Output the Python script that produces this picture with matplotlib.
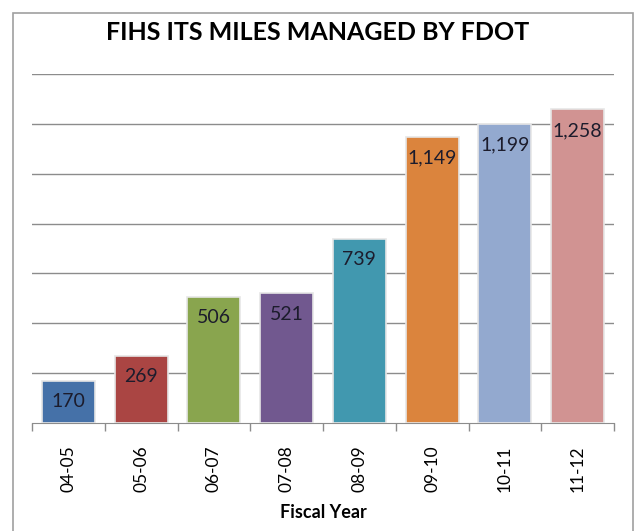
import matplotlib
matplotlib.use("Agg")
import matplotlib.pyplot as plt
from matplotlib.patches import Rectangle

# ---- data ----
years = ["04-05", "05-06", "06-07", "07-08", "08-09", "09-10", "10-11", "11-12"]
miles = [170, 269, 506, 521, 739, 1149, 1199, 1258]
bar_colors = ["#4571A8", "#AA4543", "#89A54E", "#71588F", "#4198AF", "#DB843D", "#93A9CF", "#D19392"]

plt.rcParams["font.family"] = ["Lato", "DejaVu Sans"]

fig = plt.figure(figsize=(6.36, 5.31), dpi=100)
fig.patch.set_facecolor("white")

# outer chart border (bottom runs off the picture)
fig.patches.append(Rectangle((13 / 636, -0.05), (633 - 13) / 636, 1.05 - 13 / 531,
                             transform=fig.transFigure, fill=False,
                             edgecolor="#a0a0a0", linewidth=1.2))

ax = fig.add_axes([32 / 636, 1 - 423 / 531, 582 / 636, 349 / 531])

x = list(range(len(years)))
bars = ax.bar(x, miles, width=0.73, color=bar_colors, edgecolor="#e6e6e6",
              linewidth=1.2, zorder=3)

for xi, v in zip(x, miles):
    ax.annotate(f"{v:,}", (xi, v), xytext=(0, -21), textcoords="offset pixels",
                ha="center", va="center", fontsize=14, color="#1c1c2c", zorder=4)

ax.set_xlim(-0.5, len(years) - 0.5)
ax.set_ylim(0, 1400)
ax.set_yticks(range(200, 1401, 200))
ax.yaxis.grid(True, color="#8c8c8c", linewidth=1)
ax.set_axisbelow(True)
ax.tick_params(axis="y", left=False, labelleft=False)

ax.set_xticks(x)
ax.set_xticklabels(years, rotation=90, fontsize=12.5)
ax.set_xticks([i - 0.5 for i in range(len(years) + 1)], minor=True)
ax.tick_params(axis="x", which="major", length=0, pad=16)
ax.tick_params(axis="x", which="minor", length=6, width=1, color="#8c8c8c", direction="out")

for side in ["top", "right", "left"]:
    ax.spines[side].set_visible(False)
ax.spines["bottom"].set_color("#8c8c8c")

ax.set_xlabel("Fiscal Year", fontsize=13, fontweight="bold", labelpad=9)
fig.text(0.5, 1 - 33 / 531, "FIHS ITS MILES MANAGED BY FDOT", ha="center", va="center",
         fontsize=18, fontweight="bold")

fig.savefig("out.png", dpi=100)
